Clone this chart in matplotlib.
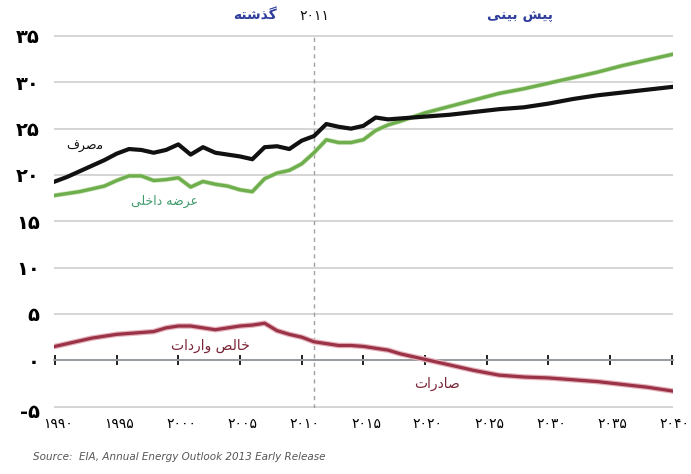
import matplotlib
matplotlib.use("Agg")
import matplotlib.pyplot as plt
import matplotlib.patheffects as pe
import matplotlib.transforms as mtransforms

# years and values (trillion cubic feet)
YEARS = [1990, 1991, 1992, 1993, 1994, 1995, 1996, 1997, 1998, 1999,
         2000, 2001, 2002, 2003, 2004, 2005, 2006, 2007, 2008, 2009,
         2010, 2011, 2012, 2013, 2014, 2015, 2016, 2017, 2018, 2020,
         2022, 2024, 2026, 2028, 2030, 2032, 2034, 2036, 2038, 2040]

CONSUMPTION = [19.3, 19.8, 20.4, 21.0, 21.6, 22.3, 22.8, 22.7, 22.4, 22.7,
               23.3, 22.2, 23.0, 22.4, 22.2, 22.0, 21.7, 23.0, 23.1, 22.8,
               23.7, 24.2, 25.5, 25.2, 25.0, 25.3, 26.2, 26.0, 26.1, 26.3,
               26.5, 26.8, 27.1, 27.3, 27.7, 28.2, 28.6, 28.9, 29.2, 29.5]

DOMESTIC = [17.8, 18.0, 18.2, 18.5, 18.8, 19.4, 19.9, 19.9, 19.4, 19.5,
            19.7, 18.7, 19.3, 19.0, 18.8, 18.4, 18.2, 19.6, 20.2, 20.5,
            21.2, 22.4, 23.8, 23.5, 23.5, 23.8, 24.8, 25.4, 25.8, 26.7,
            27.4, 28.1, 28.8, 29.3, 29.9, 30.5, 31.1, 31.8, 32.4, 33.0]

NET_IMPORTS = [1.5, 1.8, 2.1, 2.4, 2.6, 2.8, 2.9, 3.0, 3.1, 3.5,
               3.7, 3.7, 3.5, 3.3, 3.5, 3.7, 3.8, 4.0, 3.2, 2.8,
               2.5, 2.0, 1.8, 1.6, 1.6, 1.5, 1.3, 1.1, 0.7, 0.1,
               -0.5, -1.1, -1.6, -1.8, -1.9, -2.1, -2.3, -2.6, -2.9, -3.3]

X_TICKS = [1990, 1995, 2000, 2005, 2010, 2015, 2020, 2025, 2030, 2035, 2040]
X_LABELS = ["۱۹۹۰", "۱۹۹۵", "۲۰۰۰", "۲۰۰۵", "۲۰۱۰", "۲۰۱۵",
            "۲۰۲۰", "۲۰۲۵", "۲۰۳۰", "۲۰۳۵", "۲۰۴۰"]
Y_TICKS = [-5, 0, 5, 10, 15, 20, 25, 30, 35]
Y_LABELS = ["-۵", "۰", "۵", "۱۰", "۱۵", "۲۰", "۲۵", "۳۰", "۳۵"]

SPLIT_YEAR = 2011

# Persian labels, written as shaped presentation forms in visual order
LBL_PAST = "\uFEEA\uFE98\uFEB7\uFEAC\uFB94"                       # گذشته
LBL_FORECAST = "\uFBFD\uFEE8\uFBFF\uFE91 \uFEB6\uFBFF\uFB58"       # پیش بینی
LBL_CONSUMPTION = "\uFED1\uFEAE\uFEBB\uFEE3"                      # مصرف
LBL_DOMESTIC = "\uFBFD\uFEE0\uFEA7\uFE8D\uFEA9 \uFEEA\uFEBF\uFEAE\uFECB"  # عرضه داخلی
LBL_IMPORTS = "\uFE95\uFE8D\uFEA9\uFEAD\uFE8D\uFEED \uFEBA\uFEDF\uFE8E\uFEA7"  # خالص واردات
LBL_EXPORTS = "\uFE95\uFE8D\uFEAD\uFEA9\uFE8E\uFEBB"              # صادرات

plt.rcParams["font.family"] = ["DejaVu Sans"]

fig = plt.figure(figsize=(6.91, 4.74), dpi=100)
ax = fig.add_axes([0.0778, 0.1382, 0.896, 0.7898])
ax.set_xlim(1989.9, 2040.1)
ax.set_ylim(-5.2, 35.2)

ax.grid(axis="y", color="#d2d2d2", linewidth=1.3)
ax.set_axisbelow(True)
ax.axvline(SPLIT_YEAR, color="#a0a0a0", linestyle=(0, (3, 3)), linewidth=1.0, zorder=1)

ax.plot(YEARS, DOMESTIC, color="#6fae4c", linewidth=2.4, zorder=3,
        path_effects=[pe.Stroke(linewidth=3.4, foreground="#c9e2b8"), pe.Normal()])
ax.plot(YEARS, CONSUMPTION, color="#111111", linewidth=3.0, zorder=4)
ax.plot(YEARS, NET_IMPORTS, color="#9b3347", linewidth=2.3, zorder=3,
        path_effects=[pe.Stroke(linewidth=4.0, foreground="#e6b3bd"), pe.Normal()])

for side in ("top", "right", "left"):
    ax.spines[side].set_visible(False)
ax.spines["bottom"].set_position(("data", 0))
ax.spines["bottom"].set_color("#8c9297")
ax.spines["bottom"].set_linewidth(1.2)
ax.set_xticks(X_TICKS)
ax.tick_params(axis="x", direction="inout", length=7, width=1.4, color="#222222",
               labelbottom=False)

ax.set_yticks(Y_TICKS, Y_LABELS)
ax.tick_params(axis="y", length=0, pad=10, labelsize=14)
for lbl in ax.get_yticklabels():
    lbl.set_fontweight("bold")
# the -5 label sits a little below its gridline in the original
low = ax.get_yticklabels()[0]
low.set_transform(low.get_transform() + mtransforms.ScaledTranslation(0, -3 / 72, fig.dpi_scale_trans))

sec = ax.secondary_xaxis(0.0)
sec.set_xticks(X_TICKS, X_LABELS)
sec.tick_params(length=0, pad=6, labelsize=10)
sec.spines["bottom"].set_visible(False)
shift = mtransforms.ScaledTranslation(2 / 72, 0, fig.dpi_scale_trans)
for lbl in sec.get_xticklabels():
    lbl.set_transform(lbl.get_transform() + shift)

ax.text(2006.2, 37.2, LBL_PAST, color="#2f3d9c", fontsize=10, fontweight="bold",
        ha="center", va="center", clip_on=False)
ax.text(SPLIT_YEAR, 37.2, "۲۰۱۱", color="#111111", fontsize=10,
        ha="center", va="center", clip_on=False)
ax.text(2027.7, 37.2, LBL_FORECAST, color="#2f3d9c", fontsize=10, fontweight="bold",
        ha="center", va="center", clip_on=False)

ax.text(1992.4, 23.1, LBL_CONSUMPTION, color="#111111", fontsize=9,
        ha="center", va="center")
ax.text(1998.9, 17.2, LBL_DOMESTIC, color="#3f9a6c", fontsize=9,
        ha="center", va="center")
ax.text(2002.6, 1.6, LBL_IMPORTS, color="#7a2535", fontsize=10,
        ha="center", va="center")
ax.text(2021.0, -2.5, LBL_EXPORTS, color="#7a2535", fontsize=10,
        ha="center", va="center")

fig.text(0.048, 0.035, "Source:  EIA, Annual Energy Outlook 2013 Early Release",
         fontsize=7.5, style="italic", color="#555555", ha="left", va="center")

fig.savefig("out.png", dpi=100)
